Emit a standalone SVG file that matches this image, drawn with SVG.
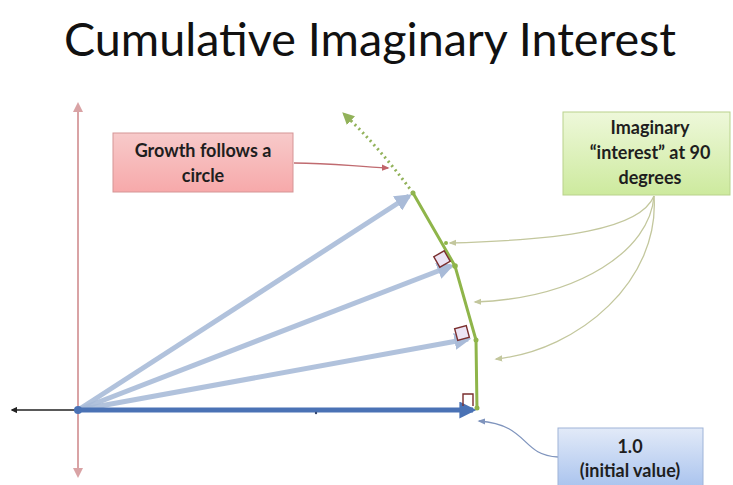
<svg xmlns="http://www.w3.org/2000/svg" width="733" height="485" viewBox="0 0 733 485">
  <defs>
    <linearGradient id="gPink" x1="0" y1="0" x2="0" y2="1">
      <stop offset="0" stop-color="#f7caca"/>
      <stop offset="1" stop-color="#f7a9aa"/>
    </linearGradient>
    <linearGradient id="gGreen" x1="0" y1="0" x2="0" y2="1">
      <stop offset="0" stop-color="#eef8da"/>
      <stop offset="1" stop-color="#cdea9e"/>
    </linearGradient>
    <linearGradient id="gBlue" x1="0" y1="0" x2="0" y2="1">
      <stop offset="0" stop-color="#e2eaf8"/>
      <stop offset="1" stop-color="#a9c3ee"/>
    </linearGradient>
    <marker id="mPink" viewBox="0 0 10 10" refX="8" refY="5" markerWidth="5" markerHeight="5" orient="auto-start-reverse">
      <path d="M0,0 L10,5 L0,10 Z" fill="#d9a3a5"/>
    </marker>
    <marker id="mBlack" viewBox="0 0 10 10" refX="8" refY="5" markerWidth="4" markerHeight="4" orient="auto">
      <path d="M0,0 L10,5 L0,10 Z" fill="#222"/>
    </marker>
    <marker id="mBlue" viewBox="0 0 10 10" refX="8" refY="5" markerWidth="3.4" markerHeight="3.4" orient="auto">
      <path d="M0,0 L10,5 L0,10 Z" fill="#4a72b5"/>
    </marker>
    <marker id="mLight" viewBox="0 0 10 10" refX="8" refY="5" markerWidth="3.4" markerHeight="3.4" orient="auto">
      <path d="M0,0 L10,5 L0,10 Z" fill="#a9bbd8"/>
    </marker>
    <marker id="mGreen" viewBox="0 0 10 10" refX="8" refY="5" markerWidth="4" markerHeight="4" orient="auto">
      <path d="M0,0 L10,5 L0,10 Z" fill="#92b25a"/>
    </marker>
    <marker id="mOlive" viewBox="0 0 10 10" refX="8" refY="5" markerWidth="6" markerHeight="6" orient="auto">
      <path d="M0,1 L10,5 L0,9 Z" fill="#c3c79d"/>
    </marker>
    <marker id="mRed" viewBox="0 0 10 10" refX="8" refY="5" markerWidth="6" markerHeight="6" orient="auto">
      <path d="M0,1 L10,5 L0,9 Z" fill="#c0646a"/>
    </marker>
    <marker id="mSteel" viewBox="0 0 10 10" refX="8" refY="5" markerWidth="6" markerHeight="6" orient="auto">
      <path d="M0,1 L10,5 L0,9 Z" fill="#7f94bd"/>
    </marker>
  </defs>
  <style>
    .title { font-family: Lato, "Liberation Sans", sans-serif; font-size: 46px; fill: #111; }
    .lbl { font-family: Lato, "Liberation Sans", sans-serif; font-weight: bold; font-size: 18px; fill: #1e1e1e; text-anchor: middle; }
    .ray { stroke: #a9bbd8; stroke-width: 5; fill: none; stroke-opacity: 0.9; }
    .arc { stroke: #8fb54a; stroke-width: 3; fill: none; }
    .sq { fill: #ece4f4; stroke: #7a2e2e; stroke-width: 1.4; }
    .call { fill: none; stroke-width: 1.3; }
  </style>

  <rect width="733" height="485" fill="#fff"/>

  <text class="title" x="370" y="56" text-anchor="middle" textLength="612" lengthAdjust="spacingAndGlyphs">Cumulative Imaginary Interest</text>

  <!-- axes -->
  <g id="axes">
    <line x1="78" y1="476" x2="78" y2="104" stroke="#d9a3a5" stroke-width="2" marker-start="url(#mPink)" marker-end="url(#mPink)"/>
    <line x1="78" y1="410" x2="12" y2="410" stroke="#222" stroke-width="1.6" marker-end="url(#mBlack)"/>
  </g>

  <g id="connectors">
    <!-- rotated values -->
    <line class="ray" x1="78" y1="410" x2="468" y2="339" marker-end="url(#mLight)"/>
    <line class="ray" x1="78" y1="410" x2="451" y2="266" marker-end="url(#mLight)"/>
    <line class="ray" x1="78" y1="410" x2="409" y2="196" marker-end="url(#mLight)"/>
    <!-- initial value -->
    <line x1="78" y1="410" x2="473" y2="410" stroke="#4a72b5" stroke-width="5" marker-end="url(#mBlue)"/>
    <circle cx="78" cy="410" r="4" fill="#4a72b5"/>
    <circle cx="316" cy="413" r="1.2" fill="#34466e"/>

    <!-- path traced by the growth -->
    <polyline class="arc" points="477,410 476,340 455,266 413,193"/>
    <circle cx="477" cy="408" r="2.5" fill="#8fb54a"/>
    <circle cx="476" cy="340" r="2.5" fill="#8fb54a"/>
    <circle cx="455" cy="266" r="2.8" fill="#8fb54a"/>
    <circle cx="413" cy="193" r="2.5" fill="#8fb54a"/>
    <circle cx="446" cy="243" r="2" fill="#8fb54a"/>
    <path d="M413,193 Q380,148 344,114" stroke="#92b25a" stroke-width="3" stroke-dasharray="2 3.5" fill="none" marker-end="url(#mGreen)"/>

    <!-- callouts -->
    <path class="call" stroke="#c06b70" d="M294,163 C330,163 350,166 388,168" marker-end="url(#mRed)"/>
    <path class="call" stroke="#c3c79d" d="M654,196 C640,230 560,240 450,243" marker-end="url(#mOlive)"/>
    <path class="call" stroke="#c3c79d" d="M654,196 C650,250 580,298 475,302" marker-end="url(#mOlive)"/>
    <path class="call" stroke="#c3c79d" d="M654,196 C660,280 580,350 496,359" marker-end="url(#mOlive)"/>
    <path class="call" stroke="#7f94bd" d="M558,457 C520,455 530,425 479,421" marker-end="url(#mSteel)"/>
  </g>

  <!-- right-angle marks -->
  <g id="right-angles">
    <rect class="sq" x="-6" y="-6" width="12" height="12" transform="translate(442,259) rotate(-30)"/>
    <rect class="sq" x="-6" y="-6" width="12" height="12" transform="translate(462,333) rotate(-15)"/>
    <polyline points="463,406 463,394 473,394 473,406" fill="none" stroke="#7a2e2e" stroke-width="1.4"/>
  </g>

  <g id="node-growth">
    <rect x="113" y="133" width="180" height="59" fill="url(#gPink)" stroke="#d59596" stroke-width="1"/>
    <text class="lbl" x="203" y="157">Growth follows a</text>
    <text class="lbl" x="203" y="182">circle</text>
  </g>

  <g id="node-interest">
    <rect x="563" y="112" width="167" height="83" fill="url(#gGreen)" stroke="#b9d28c" stroke-width="1"/>
    <text class="lbl" x="650" y="134">Imaginary</text>
    <text class="lbl" x="650" y="159">“interest” at 90</text>
    <text class="lbl" x="650" y="184">degrees</text>
  </g>

  <g id="node-initial">
    <rect x="558" y="428" width="145" height="60" fill="url(#gBlue)" stroke="#9fb4d8" stroke-width="1"/>
    <text class="lbl" x="630" y="453">1.0</text>
    <text class="lbl" x="630" y="477">(initial value)</text>
  </g>
</svg>
